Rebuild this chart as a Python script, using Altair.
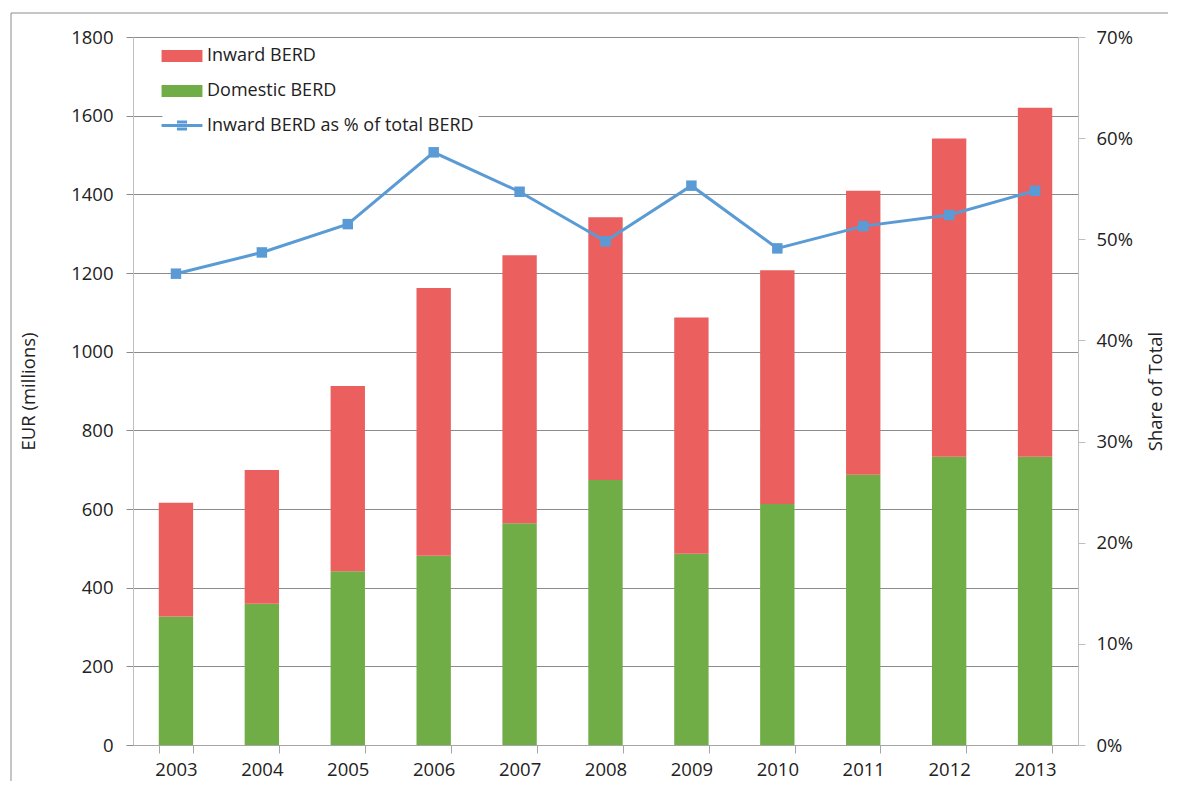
import altair as alt
import pandas as pd

years = ["2003", "2004", "2005", "2006", "2007", "2008", "2009", "2010", "2011", "2012", "2013"]
domestic = [327, 359, 442, 481, 564, 674, 486, 613, 687, 733, 733]
inward = [289, 340, 471, 681, 681, 668, 601, 594, 722, 809, 887]
share = [0.466, 0.487, 0.515, 0.586, 0.547, 0.498, 0.553, 0.491, 0.513, 0.524, 0.548]

bar_series = ["Inward BERD", "Domestic BERD"]
line_series = "Inward BERD as % of total BERD"
eur_ticks = [0, 200, 400, 600, 800, 1000, 1200, 1400, 1600, 1800]
pct_ticks = [0, 0.1, 0.2, 0.3, 0.4, 0.5, 0.6, 0.7]

RED = "#EB5F5F"
GREEN = "#70AD47"
BLUE = "#5B9BD5"
FONT = "Open Sans"
TXT = "#222222"

rows = []
for y, d, i in zip(years, domestic, inward):
    rows.append({"year": y, "series": "Domestic BERD", "value": d, "ord": 0})
    rows.append({"year": y, "series": "Inward BERD", "value": i, "ord": 1})
bar_df = pd.DataFrame(rows)
line_df = pd.DataFrame({"year": years, "share": share, "series": [line_series] * len(years)})

x_enc = alt.X(
    "year:N",
    title=None,
    scale=alt.Scale(paddingInner=0.6, paddingOuter=0.3),
    axis=alt.Axis(
        labelAngle=0, tickBand="extent", tickSize=8, tickColor="#A6A6A6",
        domainColor="#A6A6A6", labelPadding=7, grid=False,
    ),
)

bars = alt.Chart(bar_df).mark_bar().encode(
    x=x_enc,
    y=alt.Y(
        "value:Q", stack="zero",
        scale=alt.Scale(domain=[0, 1800], nice=False),
        axis=alt.Axis(
            values=eur_ticks, format="d", title="EUR (millions)", grid=True, gridColor="#8C8C8C",
            tickSize=7, tickColor="#8C8C8C", domainColor="#BFBFBF", labelPadding=13,
            titleAngle=270, titleX=-105, titleY=354, titleAlign="center", titleBaseline="middle",
        ),
    ),
    color=alt.Color(
        "series:N", title=None,
        scale=alt.Scale(domain=bar_series, range=[RED, GREEN]),
        legend=alt.Legend(
            orient="none", legendX=31, legendY=1, direction="vertical",
            symbolType="M-1.46,-0.43H1.46V0.43H-1.46Z", symbolSize=784,
            symbolStrokeWidth=0, labelOffset=11, rowPadding=12, padding=4,
            fillColor="white", labelLimit=400,
        ),
    ),
    order=alt.Order("ord:Q"),
)

line = alt.Chart(line_df).mark_line(strokeWidth=3).encode(
    x=alt.X("year:N"),
    y=alt.Y(
        "share:Q",
        scale=alt.Scale(domain=[0, 0.7], nice=False),
        axis=alt.Axis(
            orient="right", values=pct_ticks, format=".0%", title="Share of Total",
            grid=False, tickSize=7, tickColor="#BFBFBF", domainColor="#BFBFBF", labelPadding=11,
            titleAngle=270, titleX=77, titleY=354, titleAlign="center", titleBaseline="middle",
        ),
    ),
    stroke=alt.Stroke(
        "series:N", title=None,
        scale=alt.Scale(domain=[line_series], range=[BLUE]),
        legend=alt.Legend(
            orient="none", legendX=29.5, legendY=69, direction="vertical",
            symbolType="M-1.46,0H1.46M-0.36,-0.25H0.36M-0.36,0.25H0.36", symbolSize=784,
            symbolStrokeWidth=3, labelOffset=9.5, padding=4,
            fillColor="white", labelLimit=400,
        ),
    ),
)

points = alt.Chart(line_df).mark_square(size=110, color=BLUE, opacity=1, filled=True).encode(
    x=alt.X("year:N"),
    y=alt.Y("share:Q", scale=alt.Scale(domain=[0, 0.7], nice=False)),
)

frame_df = pd.DataFrame({"k": [0]})
frame_top = alt.Chart(frame_df).mark_rule(color="#8C8C8C", strokeWidth=1).encode(
    x=alt.value(-122), x2=alt.value(1100), y=alt.value(-24)
)
frame_left = alt.Chart(frame_df).mark_rule(color="#8C8C8C", strokeWidth=1).encode(
    x=alt.value(-122), y=alt.value(-24), y2=alt.value(760)
)

chart = alt.layer(
    frame_top, frame_left, bars, alt.layer(line, points)
).resolve_scale(
    y="independent", color="independent", stroke="independent"
).properties(
    width=945, height=708,
    autosize=alt.AutoSizeParams(type="none"),
    padding={"left": 125, "top": 29, "right": 90, "bottom": 36},
).configure_view(
    stroke=None
).configure_axis(
    labelFont=FONT, labelFontSize=18.5, labelColor=TXT,
    titleFont=FONT, titleFontSize=18.5, titleFontWeight="normal", titleColor=TXT,
).configure_legend(
    labelFont=FONT, labelFontSize=18, labelColor=TXT,
)

chart.save("out.html", embed_options={"renderer": "svg", "actions": False})
